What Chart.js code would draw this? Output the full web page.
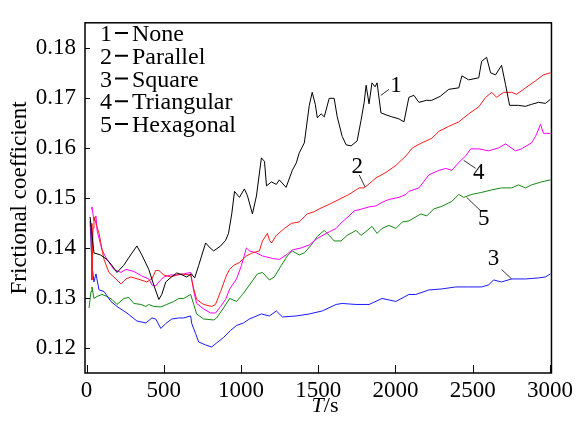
<!DOCTYPE html>
<html>
<head>
<meta charset="utf-8">
<script src="https://cdn.jsdelivr.net/npm/chart.js@4.4.0/dist/chart.umd.min.js"></script>
<style>
  html, body { margin: 0; padding: 0; background: #fff; }
  #wrap { width: 577px; height: 423px; }
</style>
</head>
<body>
<div id="wrap"><canvas id="friction"></canvas></div>
<script>
// ===== data =====
const seriesNames = ["None", "Parallel", "Square", "Triangular", "Hexagonal"];
const seriesColors = ["#000000", "#ff1a1a", "#1a1aff", "#ff00ff", "#118a11"];

const xTicks = [0, 500, 1000, 1500, 2000, 2500, 3000];
const yTicks = [0.12, 0.13, 0.14, 0.15, 0.16, 0.17, 0.18];

// 1 - None
const tNone = [23, 48, 90, 132, 165, 197, 240, 290, 326, 358, 403, 435, 468, 487, 513, 550, 584, 620, 648, 680, 700, 726, 771, 800, 823, 868, 900, 919, 940, 958, 990, 1022, 1042, 1074, 1100, 1132, 1152, 1165, 1197, 1229, 1248, 1292, 1332, 1358, 1377, 1410, 1442, 1461, 1481, 1494, 1519, 1539, 1571, 1603, 1623, 1655, 1681, 1713, 1752, 1777, 1797, 1810, 1829, 1848, 1868, 1881, 1906, 1939, 1977, 2022, 2055, 2087, 2119, 2152, 2200, 2235, 2290, 2345, 2410, 2430, 2474, 2539, 2558, 2590, 2616, 2648, 2687, 2713, 2739, 2797, 2840, 2881, 2926, 2971, 3003];
const fNone = [0.1462, 0.1390, 0.1386, 0.1377, 0.1365, 0.1351, 0.1365, 0.1388, 0.1404, 0.1386, 0.1357, 0.1326, 0.1297, 0.1307, 0.1332, 0.1342, 0.1350, 0.1346, 0.1342, 0.1348, 0.1340, 0.1365, 0.1410, 0.1400, 0.1394, 0.1404, 0.1415, 0.1429, 0.1468, 0.1513, 0.1501, 0.1518, 0.1504, 0.1468, 0.1504, 0.1580, 0.1573, 0.1524, 0.1532, 0.1527, 0.1536, 0.1521, 0.1555, 0.1570, 0.1590, 0.1610, 0.1685, 0.1711, 0.1687, 0.1660, 0.1668, 0.1662, 0.1699, 0.1699, 0.1662, 0.1623, 0.1606, 0.1604, 0.1614, 0.1655, 0.1690, 0.1725, 0.1688, 0.1730, 0.1722, 0.1730, 0.1670, 0.1666, 0.1662, 0.1658, 0.1652, 0.1701, 0.1705, 0.1691, 0.1695, 0.1695, 0.1703, 0.1717, 0.1720, 0.1744, 0.1736, 0.1740, 0.1773, 0.1781, 0.1750, 0.1746, 0.1765, 0.1726, 0.1685, 0.1685, 0.1683, 0.1687, 0.1691, 0.1689, 0.1697];

// 2 - Parallel
const tParallel = [29, 35, 42, 48, 81, 113, 145, 190, 223, 255, 287, 352, 390, 423, 448, 468, 500, 545, 610, 674, 694, 713, 758, 810, 835, 868, 907, 926, 952, 990, 1035, 1074, 1119, 1139, 1171, 1185, 1197, 1229, 1281, 1326, 1377, 1429, 1470, 1506, 1571, 1635, 1700, 1765, 1797, 1829, 1874, 1939, 2003, 2068, 2110, 2171, 2235, 2281, 2345, 2410, 2474, 2539, 2584, 2623, 2655, 2700, 2752, 2784, 2842, 2907, 2958, 3003];
const fParallel = [0.1449, 0.1336, 0.1440, 0.1462, 0.1429, 0.1377, 0.1351, 0.1338, 0.1328, 0.1338, 0.1342, 0.1336, 0.1332, 0.1338, 0.1355, 0.1355, 0.1346, 0.1342, 0.1348, 0.1346, 0.1318, 0.1297, 0.1287, 0.1283, 0.1287, 0.1313, 0.1346, 0.1357, 0.1365, 0.1371, 0.1384, 0.1390, 0.1394, 0.1414, 0.1429, 0.1415, 0.1410, 0.1425, 0.1439, 0.1449, 0.1452, 0.1468, 0.1472, 0.1478, 0.1487, 0.1497, 0.1507, 0.1520, 0.1520, 0.1528, 0.1540, 0.1551, 0.1565, 0.1584, 0.1600, 0.1610, 0.1619, 0.1633, 0.1643, 0.1652, 0.1668, 0.1682, 0.1701, 0.1711, 0.1701, 0.1711, 0.1711, 0.1707, 0.1720, 0.1734, 0.1746, 0.1750];

// 3 - Square
const tSquare = [23, 35, 48, 61, 81, 113, 158, 197, 261, 326, 384, 423, 448, 481, 513, 552, 597, 629, 674, 681, 706, 726, 771, 810, 842, 887, 932, 971, 1016, 1055, 1132, 1184, 1229, 1268, 1358, 1442, 1526, 1616, 1655, 1745, 1829, 1913, 2003, 2087, 2132, 2216, 2300, 2390, 2474, 2558, 2603, 2635, 2687, 2752, 2842, 2926, 2971, 3003];
const fSquare = [0.1454, 0.1365, 0.1332, 0.1348, 0.1316, 0.1313, 0.1293, 0.1283, 0.1270, 0.1254, 0.1250, 0.1260, 0.1258, 0.1239, 0.1249, 0.1258, 0.1260, 0.1260, 0.1264, 0.1249, 0.1229, 0.1212, 0.1206, 0.1202, 0.1210, 0.1221, 0.1235, 0.1245, 0.1250, 0.1258, 0.1268, 0.1264, 0.1274, 0.1262, 0.1264, 0.1268, 0.1274, 0.1287, 0.1289, 0.1287, 0.1287, 0.1299, 0.1293, 0.1307, 0.1307, 0.1316, 0.1318, 0.1322, 0.1322, 0.1322, 0.1326, 0.1336, 0.1332, 0.1338, 0.1338, 0.1340, 0.1342, 0.1348];

// 4 - Triangular
const tTriangular = [29, 35, 48, 61, 68, 100, 132, 177, 223, 255, 306, 358, 403, 423, 448, 468, 500, 545, 584, 629, 674, 694, 713, 758, 803, 835, 868, 900, 927, 971, 1003, 1035, 1055, 1100, 1139, 1203, 1248, 1293, 1332, 1390, 1442, 1494, 1552, 1616, 1655, 1700, 1732, 1784, 1829, 1874, 1913, 1958, 2023, 2068, 2087, 2152, 2216, 2281, 2326, 2365, 2410, 2455, 2487, 2539, 2603, 2668, 2713, 2777, 2816, 2881, 2907, 2939, 2958, 2977, 3003];
const fTriangular = [0.1478, 0.1482, 0.1454, 0.1464, 0.1435, 0.1396, 0.1377, 0.1357, 0.1351, 0.1357, 0.1353, 0.1344, 0.1338, 0.1326, 0.1324, 0.1332, 0.1342, 0.1346, 0.1346, 0.1348, 0.1351, 0.1313, 0.1289, 0.1278, 0.1270, 0.1270, 0.1283, 0.1297, 0.1318, 0.1338, 0.1365, 0.1400, 0.1394, 0.1390, 0.1384, 0.1379, 0.1377, 0.1386, 0.1396, 0.1400, 0.1406, 0.1419, 0.1429, 0.1439, 0.1452, 0.1464, 0.1474, 0.1478, 0.1482, 0.1484, 0.1491, 0.1497, 0.1501, 0.1507, 0.1513, 0.1520, 0.1546, 0.1555, 0.1559, 0.1555, 0.1571, 0.1584, 0.1598, 0.1598, 0.1594, 0.1600, 0.1608, 0.1594, 0.1598, 0.1610, 0.1623, 0.1647, 0.1629, 0.1629, 0.1629];

// 5 - Hexagonal
const tHexagonal = [16, 29, 35, 48, 68, 100, 132, 165, 197, 242, 274, 306, 352, 384, 403, 435, 481, 519, 565, 597, 629, 674, 694, 713, 758, 823, 842, 887, 927, 971, 1010, 1055, 1106, 1139, 1184, 1216, 1261, 1300, 1332, 1377, 1410, 1455, 1494, 1539, 1571, 1603, 1648, 1687, 1745, 1777, 1810, 1848, 1881, 1913, 1958, 2003, 2045, 2087, 2130, 2165, 2203, 2248, 2300, 2365, 2410, 2442, 2494, 2558, 2623, 2687, 2752, 2797, 2842, 2881, 2945, 3003];
const fHexagonal = [0.1280, 0.1313, 0.1322, 0.1299, 0.1303, 0.1307, 0.1303, 0.1297, 0.1287, 0.1299, 0.1301, 0.1289, 0.1287, 0.1283, 0.1287, 0.1283, 0.1282, 0.1287, 0.1293, 0.1299, 0.1299, 0.1307, 0.1287, 0.1268, 0.1258, 0.1256, 0.1260, 0.1280, 0.1299, 0.1293, 0.1307, 0.1326, 0.1348, 0.1351, 0.1336, 0.1342, 0.1365, 0.1384, 0.1394, 0.1386, 0.1390, 0.1406, 0.1423, 0.1435, 0.1425, 0.1414, 0.1414, 0.1425, 0.1435, 0.1425, 0.1433, 0.1443, 0.1429, 0.1439, 0.1445, 0.1439, 0.1452, 0.1454, 0.1462, 0.1468, 0.1464, 0.1478, 0.1483, 0.1493, 0.1507, 0.1501, 0.1507, 0.1511, 0.1516, 0.1520, 0.1520, 0.1526, 0.1520, 0.1526, 0.1532, 0.1536];

const seriesT = [tNone, tParallel, tSquare, tTriangular, tHexagonal];
const seriesF = [fNone, fParallel, fSquare, fTriangular, fHexagonal];

// curve numbers with leader lines, in data units: [label T, label f, from T, from f, to T, to f]
const callouts = [
  ["1", 2003, 0.1724, 1958, 0.1717, 1906, 0.1705],
  ["2", 1752, 0.1561, 1765, 0.1546, 1803, 0.1522],
  ["3", 2635, 0.1377, 2687, 0.1357, 2752, 0.1338],
  ["4", 2539, 0.1550, 2519, 0.1559, 2442, 0.1575],
  ["5", 2571, 0.1458, 2552, 0.1474, 2461, 0.1501]
];

const serif = "'Liberation Serif', 'Times New Roman', serif";
Chart.defaults.font.family = serif;
Chart.defaults.color = "#000";

// frame, inward ticks, text legend, callouts, x title
const decorPlugin = {
  id: "decor",
  afterDraw(chart) {
    const ctx = chart.ctx;
    const a = chart.chartArea;
    const xs = chart.scales.x, ys = chart.scales.y;
    ctx.save();
    ctx.strokeStyle = "#000";
    ctx.lineWidth = 1.5;
    ctx.strokeRect(a.left, a.top, a.right - a.left, a.bottom - a.top);

    ctx.lineWidth = 1;
    xTicks.forEach(v => {
      const px = Math.round(xs.getPixelForValue(v)) + 0.5;
      ctx.beginPath();
      ctx.moveTo(px, a.bottom);
      ctx.lineTo(px, a.bottom - 8);
      ctx.stroke();
    });
    yTicks.forEach(v => {
      const py = Math.round(ys.getPixelForValue(v)) + 0.5;
      ctx.beginPath();
      ctx.moveTo(a.left, py);
      ctx.lineTo(a.left + 5, py);
      ctx.stroke();
    });

    // legend: "n — name" as plain text
    ctx.fillStyle = "#000";
    ctx.font = "24px " + serif;
    ctx.textBaseline = "alphabetic";
    ctx.textAlign = "left";
    ctx.lineWidth = 2;
    seriesNames.forEach((name, i) => {
      const base = 41 + i * 22.75;
      ctx.fillText(String(i + 1), 100, base);
      ctx.beginPath();
      ctx.moveTo(115, base - 8);
      ctx.lineTo(128, base - 8);
      ctx.stroke();
      ctx.fillText(name, 132, base);
    });

    ctx.font = "23px " + serif;
    ctx.textAlign = "center";
    ctx.textBaseline = "middle";
    ctx.lineWidth = 0.8;
    callouts.forEach(c => {
      ctx.fillText(c[0], xs.getPixelForValue(c[1]), ys.getPixelForValue(c[2]));
      ctx.beginPath();
      ctx.moveTo(xs.getPixelForValue(c[3]), ys.getPixelForValue(c[4]));
      ctx.lineTo(xs.getPixelForValue(c[5]), ys.getPixelForValue(c[6]));
      ctx.stroke();
    });

    // x title "T/s" with italic T
    ctx.textAlign = "left";
    ctx.font = "italic 22px " + serif;
    const wT = ctx.measureText("T").width;
    ctx.font = "22px " + serif;
    const wS = ctx.measureText("/s").width;
    const x0 = 325 - (wT + wS) / 2;
    ctx.font = "italic 22px " + serif;
    ctx.fillText("T", x0, 406);
    ctx.font = "22px " + serif;
    ctx.fillText("/s", x0 + wT, 406);
    ctx.restore();
  }
};

new Chart(document.getElementById("friction"), {
  type: "line",
  data: {
    datasets: seriesNames.map((name, i) => ({
      label: name,
      data: seriesT[i].map((t, k) => ({ x: t, y: seriesF[i][k] })),
      borderColor: seriesColors[i],
      borderWidth: 1,
      pointRadius: 0,
      tension: 0,
      fill: false
    }))
  },
  options: {
    responsive: true,
    maintainAspectRatio: false,
    animation: false,
    layout: { padding: { top: 13, right: 24, left: 0, bottom: 0 } },
    plugins: {
      legend: { display: false },
      tooltip: { enabled: false }
    },
    scales: {
      x: {
        type: "linear",
        min: -10,
        max: 3010,
        afterBuildTicks: s => { s.ticks = xTicks.map(v => ({ value: v })); },
        afterFit: s => { s.height = 50; },
        grid: { display: false, drawTicks: false },
        border: { display: false },
        ticks: { padding: 4, font: { size: 23 }, maxRotation: 0, callback: v => String(v) }
      },
      y: {
        min: 0.115,
        max: 0.185,
        afterBuildTicks: s => { s.ticks = yTicks.map(v => ({ value: v })); },
        afterFit: s => { s.width = 85; },
        grid: { display: false, drawTicks: false },
        border: { display: false },
        ticks: { padding: 9, font: { size: 23 }, callback: v => v.toFixed(2) },
        title: { display: true, text: "Frictional coefficient", font: { size: 23 }, padding: { top: 6, bottom: 0 } }
      }
    }
  },
  plugins: [decorPlugin]
});
</script>
</body>
</html>
